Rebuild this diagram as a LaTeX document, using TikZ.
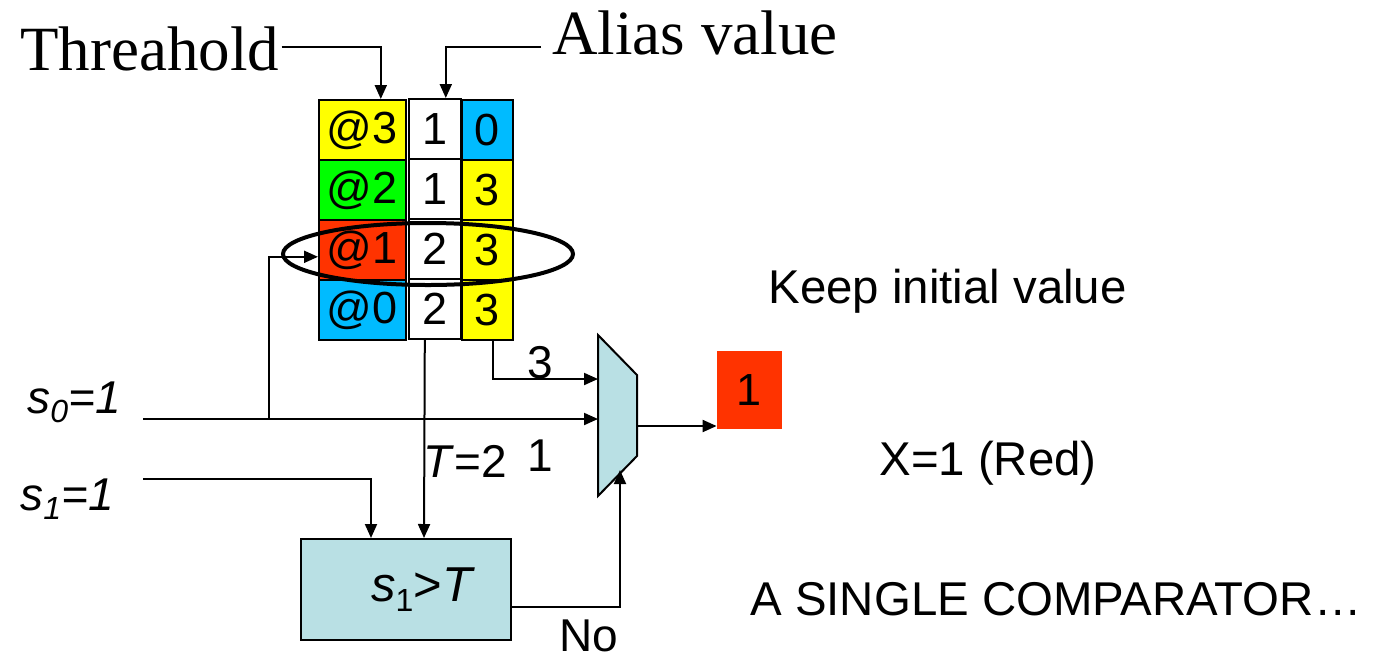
\documentclass[tikz,border=0pt]{standalone}
\usepackage{fontspec}
\setmainfont{Liberation Sans}
\newfontfamily\serifface{Liberation Serif}
\usetikzlibrary{arrows.meta,calc}
\definecolor{cellyellow}{RGB}{255,255,0}
\definecolor{cellgreen}{RGB}{0,255,0}
\definecolor{cellred}{RGB}{255,51,0}
\definecolor{cellblue}{RGB}{0,187,255}
\definecolor{unitblue}{RGB}{185,224,228}
% lowered small subscript
\newcommand\lowsub[1]{\raisebox{-0.4ex}{\fontsize{16}{16}\selectfont #1}}
\begin{document}
\begin{tikzpicture}[x=0.5pt,y=-0.5pt,
  wire/.style={line width=1pt},
  arr/.style={wire,-{Triangle[length=7pt,width=6pt]}},
  cell/.style={draw,line width=0.8pt,anchor=north west,inner sep=0pt,
    minimum height=30pt,font=\fontsize{22.5}{22.5}\selectfont},
  thcell/.style={cell,minimum width=43.5pt},
  alcell/.style={cell,minimum width=26pt,fill=white},
  nxcell/.style={cell,minimum width=25.5pt},
  lbl/.style={inner sep=0pt,font=\fontsize{23}{23}\selectfont},
  note/.style={inner sep=0pt,anchor=base west,font=\fontsize{23.7}{24}\selectfont},
  title/.style={inner sep=0pt,anchor=base west,font=\serifface\fontsize{31.5}{32}\selectfont}]
\useasboundingbox (0,0) rectangle (1383,660);

% table: threshold, alias value, next
\node[thcell,fill=cellyellow] (th3) at (318,99)  {@3};
\node[thcell,fill=cellgreen]  (th2) at (318,159) {@2};
\node[thcell,fill=cellred]    (th1) at (318,219) {@1};
\node[thcell,fill=cellblue]   (th0) at (318,279) {@0};
\node[alcell] (al3) at (408,98)  {1};
\node[alcell] (al2) at (408,158) {1};
\node[alcell] (al1) at (408,218) {2};
\node[alcell] (al0) at (408,278) {2};
\node[nxcell,fill=cellblue]   (nx3) at (461,99)  {0};
\node[nxcell,fill=cellyellow] (nx2) at (461,159) {3};
\node[nxcell,fill=cellyellow] (nx1) at (461,219) {3};
\node[nxcell,fill=cellyellow] (nx0) at (461,279) {3};

% titles
\node[title] (thr) at (20,70) {Threahold};
\node[title] (alias) at (552,54) {Alias value};
\draw[arr] ($(thr.base east)+(2,-23)$) -| ($(th3.north)+(18.5,0)$);
\draw[arr] ($(alias.base west)+(-11,-7)$) -| ($(al3.north)+(11,0)$);

% multiplexer
\draw[wire,fill=unitblue] (598,335) -- (637,375) -- (637,456) -- (598,496) -- cycle;
\coordinate (muxA) at (598,379);
\coordinate (muxB) at (598,419);
\coordinate (muxS) at (620,470);
\coordinate (muxO) at (637,426);

% comparator and result
\node[draw,wire,fill=unitblue,minimum width=105pt,minimum height=50.5pt,inner sep=0pt,
  font=\fontsize{24.5}{24.5}\selectfont] (cmp) at (406,589.5)
  {\hspace*{17pt}\textit{s}\lowsub{1}>\textit{T}};
\node[fill=cellred,minimum width=32.5pt,minimum height=39pt,inner sep=0pt,
  font=\fontsize{22.5}{22.5}\selectfont] (xout) at (749.5,390) {1};

% inputs
\node[lbl,anchor=base west] (s0) at (27,413) {\itshape s\lowsub{0}=1};
\node[lbl,anchor=base west] (s1) at (20,510) {\itshape s\lowsub{1}=1};
\coordinate (s0in) at (143,419);
\coordinate (s1in) at (143,479);
\coordinate (tap) at (269,419);

% connectors
\draw[arr] (s0in) -- (muxB);
\draw[arr] (tap) |- ($(th1.west)+(0,7)$);
\draw[arr] ($(nx0.south)+(6,0)$) |- (muxA);
\draw[arr] (s1in) -| ($(cmp.north)+(-35,0)$);
\draw[arr] ($(al0.south)+(-10,0)$) -- ($(cmp.north)+(18,0)$);
\draw[arr] ($(cmp.east)+(0,17.5)$) -| (muxS);
\draw[arr] (muxO) -- (xout.west |- muxO);

% selected row
\draw[line width=2pt] (428,254) ellipse [x radius=72.5pt, y radius=15.5pt];

% wire labels
\node[lbl,anchor=base] (lab3) at (540,378) {3};
\node[lbl,anchor=base] (labT) at (465,477) {\textit{T}=2};
\node[lbl,anchor=base] (lab1) at (540,471) {1};
\node[lbl,anchor=base] (labNo) at (589,651) {No};

% notes
\node[note] (keep) at (768,303) {Keep initial value};
\node[note] (xres) at (879,475) {X=1 (Red)};
\node[note] (single) at (750,615) {A SINGLE COMPARATOR…};
\end{tikzpicture}
\end{document}
